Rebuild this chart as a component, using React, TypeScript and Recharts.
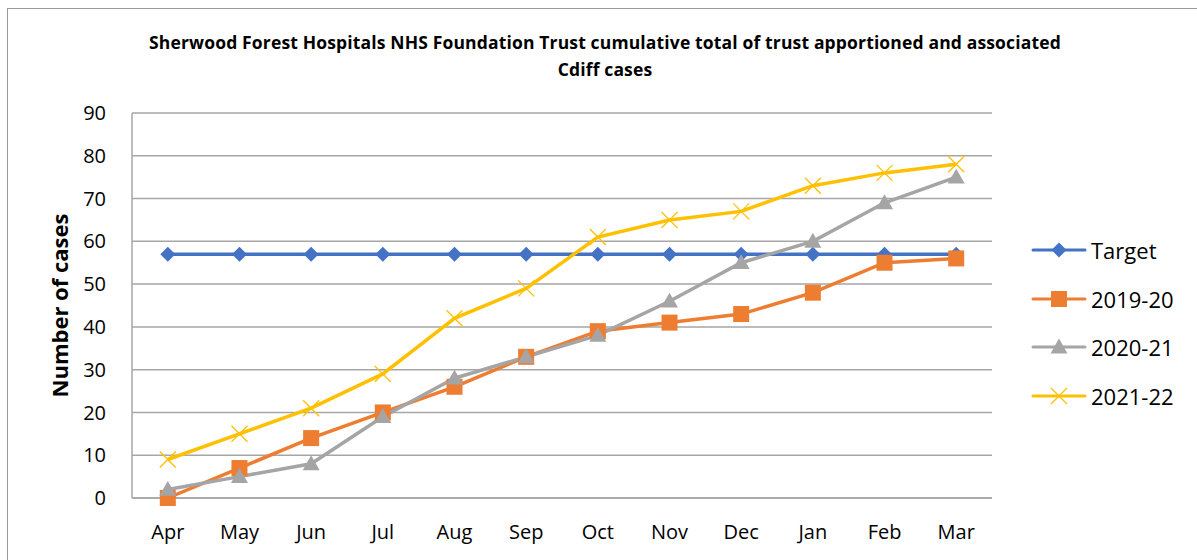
import React from 'react';
import { LineChart, Line, XAxis, YAxis, CartesianGrid } from 'recharts';

const months = ['Apr', 'May', 'Jun', 'Jul', 'Aug', 'Sep', 'Oct', 'Nov', 'Dec', 'Jan', 'Feb', 'Mar'];
const target = [57, 57, 57, 57, 57, 57, 57, 57, 57, 57, 57, 57];
const y2019 = [0, 7, 14, 20, 26, 33, 39, 41, 43, 48, 55, 56];
const y2020 = [2, 5, 8, 19, 28, 33, 38, 46, 55, 60, 69, 75];
const y2021 = [9, 15, 21, 29, 42, 49, 61, 65, 67, 73, 76, 78];
const yTicks = [0, 10, 20, 30, 40, 50, 60, 70, 80, 90];

const data = months.map((m, i) => ({
  month: m,
  target: target[i],
  y2019: y2019[i],
  y2020: y2020[i],
  y2021: y2021[i],
}));

const series = [
  { key: 'target', name: 'Target', color: '#4472C4', shape: 'diamond' },
  { key: 'y2019', name: '2019-20', color: '#ED7D31', shape: 'square' },
  { key: 'y2020', name: '2020-21', color: '#A5A5A5', shape: 'triangle' },
  { key: 'y2021', name: '2021-22', color: '#FFC000', shape: 'cross' },
];

const Marker = ({ cx, cy, shape, color }: any) => {
  if (cx == null || cy == null) return null;
  if (shape === 'diamond') {
    const r = 7.5;
    return <polygon points={`${cx},${cy - r} ${cx + r},${cy} ${cx},${cy + r} ${cx - r},${cy}`} fill={color} />;
  }
  if (shape === 'square') {
    const r = 8;
    return <rect x={cx - r} y={cy - r} width={r * 2} height={r * 2} fill={color} />;
  }
  if (shape === 'triangle') {
    const r = 8.5;
    return <polygon points={`${cx},${cy - r} ${cx + r},${cy + r * 0.75} ${cx - r},${cy + r * 0.75}`} fill={color} />;
  }
  const r = 8;
  return (
    <g stroke={color} strokeWidth={1.3}>
      <line x1={cx - r} y1={cy - r} x2={cx + r} y2={cy + r} />
      <line x1={cx - r} y1={cy + r} x2={cx + r} y2={cy - r} />
    </g>
  );
};

const LegendBox = () => (
  <div style={{ position: 'absolute', left: 1031, top: 226 }}>
    {series.map((s) => (
      <div key={s.key} style={{ display: 'flex', alignItems: 'center', height: 48.5 }}>
        <svg width={56} height={24}>
          <line x1={2} y1={12} x2={54} y2={12} stroke={s.color} strokeWidth={3} strokeLinecap="round" />
          <Marker cx={28} cy={12} shape={s.shape} color={s.color} />
        </svg>
        <span style={{ marginLeft: 4, fontSize: 22, color: '#000' }}>{s.name}</span>
      </div>
    ))}
  </div>
);

export default function App() {
  return (
    <div style={{ position: 'absolute', left: 0, top: 0, width: 1197, height: 560, background: '#fff', overflow: 'hidden', fontFamily: 'Open Sans, sans-serif' }}>
      <div style={{ position: 'absolute', left: 7, top: 8, width: 1300, height: 700, borderTop: '1.5px solid #999', borderLeft: '1.5px solid #999' }} />
      <div
        style={{
          position: 'absolute',
          left: 0,
          width: 1210,
          top: 29,
          textAlign: 'center',
          fontFamily: 'Open Sans, sans-serif',
          fontWeight: 'bold',
          fontSize: 17.5,
          lineHeight: '27px',
          letterSpacing: 0.15,
          color: '#000',
        }}
      >
        Sherwood Forest Hospitals NHS Foundation Trust cumulative total of trust apportioned and associated
        <br />
        Cdiff cases
      </div>
      <LineChart width={1197} height={560} data={data} margin={{ top: 113, right: 205, bottom: 32, left: 0 }} style={{ position: 'absolute', left: 0, top: 0 }}>
        <CartesianGrid vertical={false} stroke="#a6a6a6" strokeWidth={1.5} />
        <XAxis
          dataKey="month"
          height={30}
          padding={{ left: 35.8, right: 35.8 }}
          tickLine={false}
          axisLine={{ stroke: '#a6a6a6', strokeWidth: 1.5 }}
          tick={{ fill: '#000', fontSize: 20 }}
          tickMargin={27}
          tickSize={0}
          interval={0}
        />
        <YAxis
          width={132}
          domain={[0, 90]}
          ticks={yTicks}
          interval={0}
          tickLine={false}
          tickSize={0}
          tickMargin={26}
          axisLine={{ stroke: '#a6a6a6', strokeWidth: 1.5 }}
          tick={{ fill: '#000', fontSize: 20 }}
          label={{ value: 'Number of cases', angle: -90, position: 'center', dx: -6, style: { fontWeight: 'bold', fontSize: 22, fill: '#000' } }}
        />
        {series.map((s) => (
          <Line
            key={s.key}
            dataKey={s.key}
            name={s.name}
            stroke={s.color}
            strokeWidth={3.5}
            isAnimationActive={false}
            dot={(p: any) => <Marker key={`${s.key}-${p.index}`} cx={p.cx} cy={p.cy} shape={s.shape} color={s.color} />}
            activeDot={false}
          />
        ))}
      </LineChart>
      <LegendBox />
    </div>
  );
}
